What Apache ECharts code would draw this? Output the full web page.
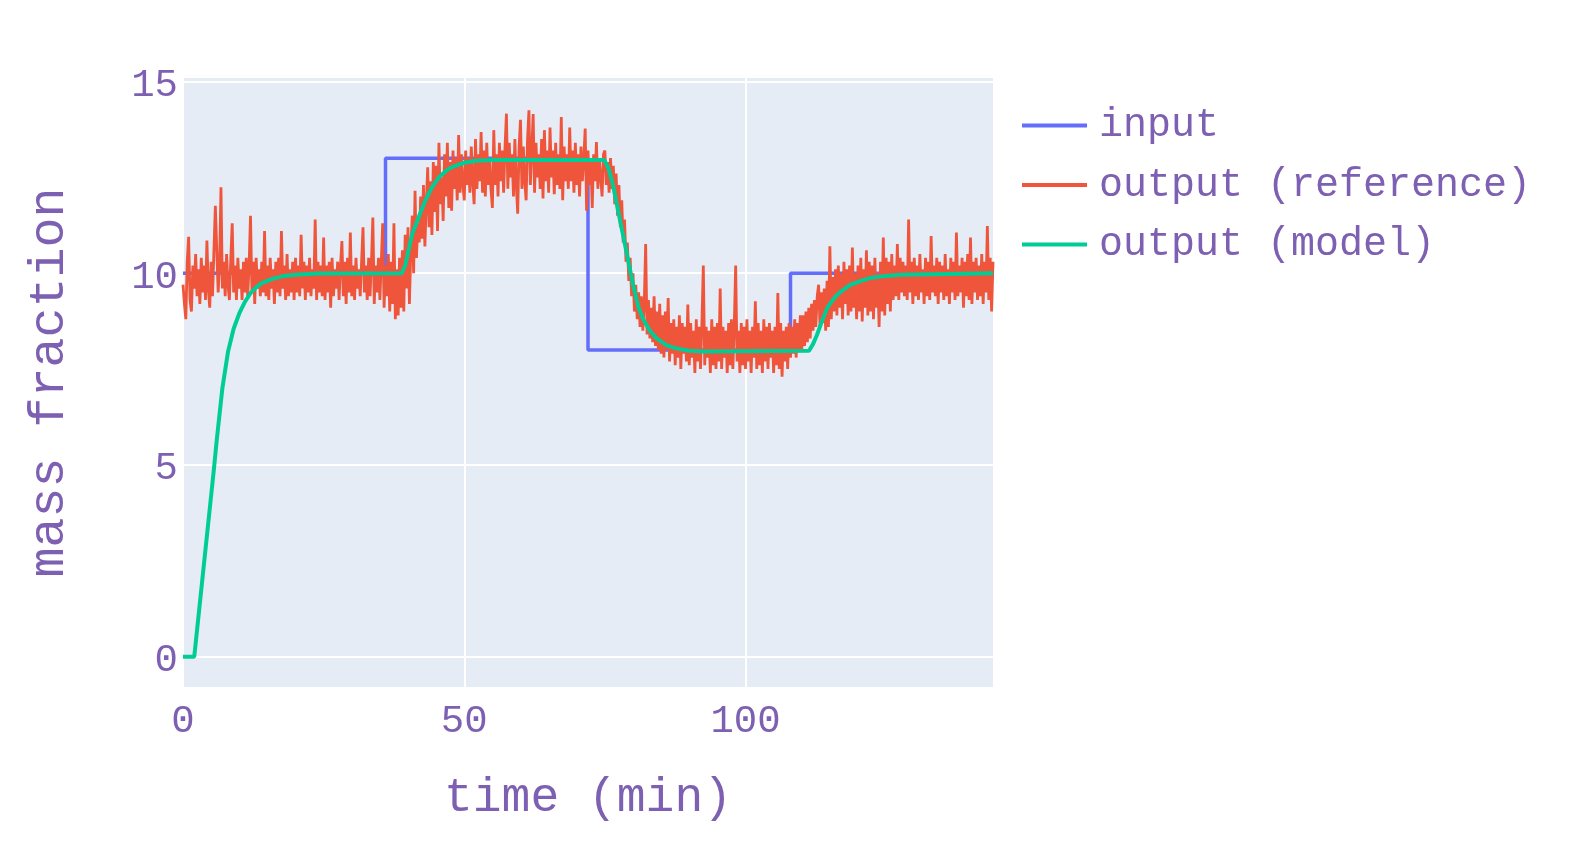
<!DOCTYPE html>
<html>
<head>
<meta charset="utf-8">
<script src="https://cdn.jsdelivr.net/npm/echarts@6/dist/echarts.min.js"></script>
<style>
html,body{margin:0;padding:0;background:#fff;}
#chart{width:1576px;height:867px;}
</style>
</head>
<body>
<div id="chart"></div>
<script>
// ---- data ----
var seriesNames = ['input', 'output (reference)', 'output (model)'];

// input: step changes (value holds until next time)
var inputTimes  = [0, 36, 72, 108, 144];
var inputValues = [10, 13, 8, 10, 10];

// output (reference): noisy measurement, sampled every 0.25 min from t = 0 (one row = 5 min)
var referenceStart = 0;
var referenceStep = 0.25;
var referenceValues = [
  9.7, 9.2, 8.8, 10.3, 10.95, 9.3, 9.0, 10.2, 9.6, 10.5, 9.4, 10.1, 9.2, 10.4, 9.5, 10.2, 9.3, 10.85, 9.6, 9.1,
  10.3, 9.4, 10.6, 11.76, 11.8, 9.5, 10.2, 12.24, 9.6, 10.3, 9.4, 10.5, 9.7, 9.3, 10.4, 11.3, 9.5, 10.2, 9.3, 10.4,
  9.6, 10.1, 9.3, 10.3, 9.5, 10.4, 9.4, 10.2, 11.5, 9.5, 10.3, 9.2, 10.4, 9.6, 10.1, 9.4, 10.3, 9.5, 11.1, 9.4,
  10.2, 9.3, 10.4, 9.6, 10.1, 9.2, 10.3, 9.5, 10.4, 9.4, 11.1, 9.6, 10.2, 9.3, 10.5, 9.4, 10.1, 9.5, 10.3, 9.3,
  10.4, 9.5, 10.2, 9.4, 11.0, 9.6, 10.3, 9.3, 10.2, 9.5, 10.4, 9.4, 10.1, 9.6, 11.4, 9.3, 10.3, 9.5, 10.2, 9.4,
  10.93, 9.3, 10.2, 9.5, 10.3, 9.1, 10.4, 9.4, 10.1, 9.6, 10.3, 9.3, 10.2, 10.84, 9.4, 10.3, 9.2, 10.4, 9.5, 11.06,
  9.4, 10.2, 9.3, 10.4, 9.6, 10.1, 9.4, 10.3, 11.2, 9.5, 10.2, 9.3, 10.4, 9.4, 10.3, 11.45, 9.2, 10.2, 9.5, 10.4,
  9.3, 10.3, 11.3, 9.1, 10.2, 9.4, 10.5, 9.0, 10.3, 9.2, 11.3, 8.8, 10.1, 8.9, 10.4, 9.1, 10.6, 9.0, 11.0, 9.6,
  11.2, 9.2, 10.6, 11.5, 10.0, 12.15, 10.4, 11.3, 10.8, 12.0, 10.9, 12.3, 10.7, 11.8, 12.76, 11.2, 12.4, 11.0, 12.9, 11.6,
  12.8, 11.1, 13.4, 11.8, 12.5, 11.36, 13.1, 12.0, 13.4, 11.7, 12.9, 11.63, 13.2, 12.2, 13.0, 11.9, 13.6, 12.1, 13.1, 12.3,
  11.9, 13.2, 12.3, 13.0, 12.1, 13.3, 12.4, 11.8, 13.5, 12.2, 13.1, 12.4, 13.68, 12.1, 13.2, 12.0, 13.4, 12.3, 13.0, 12.2,
  11.7, 13.73, 12.3, 13.1, 12.0, 13.4, 12.4, 13.2, 12.1, 13.3, 14.16, 12.2, 13.4, 12.5, 13.1, 12.0, 13.5, 12.3, 11.55, 13.3,
  14.0, 12.2, 13.3, 12.4, 11.9, 13.5, 14.25, 12.3, 13.2, 14.15, 12.1, 13.4, 12.5, 13.1, 12.2, 13.5, 11.95, 13.73, 12.4, 13.2,
  12.1, 13.8, 12.5, 13.2, 12.06, 13.4, 12.3, 13.1, 12.2, 14.07, 11.9, 13.3, 12.4, 13.1, 12.2, 13.8, 12.4, 13.2, 12.1, 13.4,
  12.3, 13.1, 12.0, 13.3, 12.4, 13.0, 13.77, 11.63, 13.2, 12.3, 13.0, 11.7, 13.1, 12.4, 13.42, 12.2, 13.0, 12.5, 12.0, 13.1,
  13.2, 12.3, 12.9, 12.1, 13.0, 12.2, 12.8, 11.8, 12.6, 11.5, 12.3, 11.2, 11.9, 10.8, 11.4, 10.3, 10.8, 9.8, 10.4, 9.4,
  10.0, 9.0, 9.7, 8.8, 9.5, 8.6, 9.4, 8.5, 9.2, 10.76, 8.4, 9.3, 8.3, 9.1, 8.2, 9.4, 8.1, 9.0, 8.0, 9.2,
  7.9, 8.9, 7.8, 9.0, 8.0, 9.35, 7.7, 8.7, 7.9, 8.8, 7.6, 8.6, 7.8, 8.9, 7.5, 8.7, 7.9, 8.6, 7.7, 9.18,
  7.6, 8.7, 7.8, 8.5, 7.4, 8.8, 7.7, 8.6, 7.5, 8.7, 10.2, 7.6, 8.6, 7.8, 8.5, 7.4, 8.8, 7.6, 8.6, 7.5,
  8.7, 7.7, 9.6, 7.5, 8.6, 7.8, 8.5, 7.4, 8.7, 7.6, 8.8, 7.5, 8.6, 10.2, 7.7, 8.5, 7.4, 8.7, 7.6, 8.6,
  7.5, 8.8, 7.7, 8.5, 7.4, 8.6, 7.8, 9.27, 7.5, 8.7, 7.6, 8.5, 7.4, 8.8, 7.7, 8.6, 7.5, 8.7, 7.8, 8.5,
  7.4, 8.6, 7.6, 9.48, 7.5, 8.7, 7.3, 8.5, 7.7, 8.6, 7.5, 8.7, 7.8, 8.6, 7.9, 8.8, 7.8, 8.7, 8.0, 8.9,
  8.0, 8.9, 8.1, 9.0, 8.2, 9.1, 8.3, 9.2, 8.5, 9.3, 8.6, 9.4, 9.7, 8.6, 9.5, 8.7, 9.6, 8.5, 9.8, 8.6,
  10.7, 8.8, 9.9, 9.0, 10.1, 8.9, 10.2, 9.1, 10.0, 8.8, 10.3, 9.2, 10.1, 8.9, 10.2, 9.0, 10.67, 9.1, 10.0, 8.8,
  10.2, 9.0, 10.4, 8.74, 10.1, 9.1, 10.6, 8.9, 10.3, 9.0, 10.2, 8.8, 10.4, 9.1, 10.0, 8.6, 10.3, 9.0, 10.93, 8.9,
  10.4, 9.2, 10.3, 9.0, 10.5, 9.3, 10.2, 9.4, 10.76, 9.3, 10.4, 9.5, 10.3, 9.4, 10.2, 9.3, 11.4, 9.5, 10.3, 9.2,
  10.4, 9.4, 10.2, 9.3, 10.5, 9.5, 10.1, 9.2, 10.4, 9.4, 10.3, 9.3, 10.97, 9.5, 10.2, 9.4, 10.4, 9.2, 10.3, 9.5,
  10.2, 9.3, 10.5, 9.4, 10.1, 9.2, 10.4, 9.5, 10.3, 9.3, 11.06, 9.4, 10.2, 9.5, 10.4, 9.1, 10.3, 9.4, 10.5, 9.3,
  10.93, 9.2, 10.3, 9.5, 10.4, 9.3, 10.2, 9.4, 10.5, 9.2, 10.3, 9.5, 11.23, 9.3, 10.4, 9.0, 10.3
];

// output (model): smooth simulated response
var modelTimes = [
  0, 2, 3, 4, 5, 5.5, 6, 7, 8, 9, 10, 11, 12, 13, 14, 16, 18, 20, 24,
  38.9, 39.5, 40.1, 40.7, 42, 43.1, 44.3, 45.5, 47, 48, 50, 52, 55,
  74.9, 75.6, 76.4, 77.6, 78.8, 80, 81, 81.8, 83, 84.2, 86, 87.7, 90, 92.5,
  111.3, 112, 112.7, 113.6, 114.5, 115.4, 116.3, 117.5, 118.7, 120.5, 122.3, 125, 127.6, 144
];
var modelValues = [
  0, 0, 1.4, 2.8, 4.2, 4.9, 5.65, 7.0, 7.95, 8.55, 8.95, 9.25, 9.48, 9.63, 9.74, 9.86, 9.93, 9.96, 9.99,
  10.0, 10.2, 10.6, 11.0, 11.5, 11.9, 12.25, 12.5, 12.7, 12.78, 12.88, 12.93, 12.95,
  12.95, 12.75, 12.33, 11.45, 10.58, 9.7, 9.1, 8.8, 8.5, 8.3, 8.12, 8.04, 7.98, 7.96,
  7.98, 8.15, 8.39, 8.75, 9.09, 9.28, 9.44, 9.58, 9.7, 9.8, 9.88, 9.93, 9.96, 10.0
];

// axis ticks
var xTicks = [0, 50, 100];
var yTicks = [0, 5, 10, 15];

// ---- build chart ----
function pairs(xs, ys) {
  var out = [];
  for (var i = 0; i < xs.length; i++) out.push([xs[i], ys[i]]);
  return out;
}
var referenceTimes = referenceValues.map(function (v, i) { return referenceStart + i * referenceStep; });

var textColor = '#7e60b2';
var font = "'Liberation Mono', 'Courier New', monospace";

var chart = echarts.init(document.getElementById('chart'), null, {renderer: 'canvas'});
chart.setOption({
  animation: false,
  backgroundColor: '#ffffff',
  textStyle: {fontFamily: font, color: textColor},
  grid: {
    left: 183, right: 583, top: 78, bottom: 180,
    show: true, backgroundColor: '#E5ECF6', borderWidth: 0
  },
  legend: {
    orient: 'vertical',
    left: 1017, top: 100.5,
    itemWidth: 65, itemHeight: 4,
    itemGap: 19.5,
    icon: 'rect',
    data: seriesNames,
    textStyle: {fontFamily: font, color: textColor, fontSize: 40, lineHeight: 40, padding: [0, 0, 0, 7]}
  },
  xAxis: {
    type: 'value',
    min: 0, max: 144,
    name: 'time (min)',
    nameLocation: 'middle',
    nameGap: 87,
    nameTextStyle: {fontFamily: font, color: textColor, fontSize: 48},
    axisLine: {show: false},
    axisTick: {show: false, customValues: xTicks},
    axisLabel: {customValues: xTicks, color: textColor, fontFamily: font, fontSize: 39, margin: 15},
    splitLine: {show: true, lineStyle: {color: '#ffffff', width: 2}}
  },
  yAxis: {
    type: 'value',
    min: -0.79, max: 15.09,
    name: 'mass fraction',
    nameLocation: 'middle',
    nameGap: 108,
    nameTextStyle: {fontFamily: font, color: textColor, fontSize: 50},
    axisLine: {show: false},
    axisTick: {show: false, customValues: yTicks},
    axisLabel: {customValues: yTicks, color: textColor, fontFamily: font, fontSize: 39, margin: 5,
                verticalAlign: 'top', lineHeight: 8},
    splitLine: {show: true, lineStyle: {color: '#ffffff', width: 2}}
  },
  series: [
    {
      name: seriesNames[0], type: 'line', step: 'end', showSymbol: false,
      data: pairs(inputTimes, inputValues),
      itemStyle: {color: '#636EFA'},
      lineStyle: {color: '#636EFA', width: 3.5}
    },
    {
      name: seriesNames[1], type: 'line', showSymbol: false,
      data: pairs(referenceTimes, referenceValues),
      itemStyle: {color: '#EF553B'},
      lineStyle: {color: '#EF553B', width: 2.8}
    },
    {
      name: seriesNames[2], type: 'line', showSymbol: false,
      data: pairs(modelTimes, modelValues),
      itemStyle: {color: '#00CC96'},
      lineStyle: {color: '#00CC96', width: 4}
    }
  ]
});
</script>
</body>
</html>
